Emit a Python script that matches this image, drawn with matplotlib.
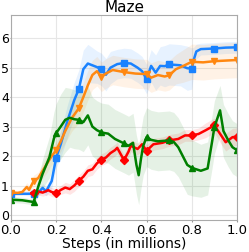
import numpy as np
import matplotlib.pyplot as plt

# Maze: mean return curves, with band half-widths
blue_x = [0.0, 0.05, 0.10, 0.12, 0.14, 0.155, 0.18, 0.20, 0.22, 0.25, 0.28, 0.30, 0.32, 0.34, 0.36,
          0.38, 0.40, 0.42, 0.44, 0.47, 0.50, 0.53, 0.56, 0.58, 0.60, 0.62, 0.64, 0.66, 0.68, 0.70,
          0.75, 0.78, 0.80, 0.81, 0.82, 0.84, 0.90, 0.95, 1.00]
blue_y = [0.72, 0.72, 0.72, 0.75, 0.92, 0.80, 1.15, 1.95, 2.40, 3.20, 3.90, 4.27, 4.95, 5.14, 5.08,
          5.02, 4.94, 4.76, 5.00, 5.12, 5.16, 5.14, 5.00, 4.88, 4.61, 5.06, 4.83, 5.06, 5.05, 5.11,
          5.08, 4.98, 4.97, 5.30, 5.55, 5.63, 5.65, 5.68, 5.69]
blue_sd = [0.05, 0.05, 0.08, 0.10, 0.15, 0.15, 0.25, 0.35, 0.45, 0.55, 0.6, 0.65, 0.65, 0.65, 0.6,
           0.55, 0.55, 0.55, 0.55, 0.5, 0.5, 0.5, 0.5, 0.5, 0.5, 0.55, 0.6, 0.65, 0.7, 0.7,
           0.7, 0.75, 0.7, 0.4, 0.25, 0.2, 0.2, 0.2, 0.2]

orange_x = [0.0, 0.03, 0.05, 0.07, 0.08, 0.10, 0.12, 0.14, 0.16, 0.18, 0.20, 0.22, 0.24, 0.27, 0.30,
            0.32, 0.34, 0.36, 0.38, 0.40, 0.42, 0.45, 0.50, 0.55, 0.60, 0.62, 0.65, 0.68, 0.70, 0.73,
            0.76, 0.80, 0.85, 0.90, 0.95, 1.00]
orange_y = [0.76, 0.75, 0.78, 0.95, 0.85, 1.15, 1.25, 1.50, 1.75, 2.00, 2.20, 2.50, 2.85, 3.30, 3.62,
            4.00, 4.40, 4.75, 4.88, 4.69, 4.80, 4.92, 4.85, 4.80, 4.78, 4.66, 4.75, 4.70, 4.74, 4.95,
            5.05, 5.20, 5.18, 5.22, 5.24, 5.26]
orange_sd = [0.08, 0.08, 0.1, 0.15, 0.15, 0.2, 0.2, 0.25, 0.3, 0.3, 0.3, 0.35, 0.4, 0.45, 0.5,
             0.5, 0.5, 0.5, 0.5, 0.5, 0.5, 0.5, 0.5, 0.5, 0.5, 0.5, 0.5, 0.5, 0.5, 0.5,
             0.55, 0.6, 0.6, 0.6, 0.6, 0.6]

green_x = [0.0, 0.05, 0.10, 0.12, 0.14, 0.17, 0.19, 0.20, 0.22, 0.24, 0.26, 0.28, 0.30, 0.32, 0.34,
           0.36, 0.38, 0.40, 0.43, 0.46, 0.50, 0.52, 0.54, 0.555, 0.565, 0.575, 0.585, 0.60, 0.62, 0.65,
           0.70, 0.72, 0.74, 0.76, 0.78, 0.80, 0.84, 0.87, 0.89, 0.90, 0.925, 0.94, 0.96, 0.98, 1.00]
green_y = [0.52, 0.50, 0.44, 0.95, 1.40, 1.96, 2.60, 2.78, 3.00, 3.23, 3.30, 3.25, 3.23, 3.15, 3.38,
           3.00, 2.88, 2.80, 2.76, 2.58, 2.43, 2.35, 2.45, 1.70, 1.35, 1.90, 2.35, 2.64, 2.55, 2.50,
           2.53, 2.48, 2.30, 2.00, 1.70, 1.60, 1.50, 1.58, 2.50, 2.98, 3.55, 2.85, 2.55, 2.30, 2.20]
green_sd = [0.1, 0.1, 0.1, 0.3, 0.5, 0.7, 0.9, 1.0, 1.1, 1.1, 1.0, 1.0, 1.0, 1.0, 1.0,
            1.0, 1.0, 1.0, 1.0, 1.0, 1.0, 1.0, 1.0, 1.0, 1.0, 1.0, 1.0, 1.0, 1.0, 1.0,
            1.0, 1.0, 1.0, 1.0, 1.0, 0.95, 0.9, 0.9, 0.9, 0.9, 0.85, 0.9, 0.9, 0.9, 0.9]

red_x = [0.09, 0.10, 0.12, 0.14, 0.165, 0.18, 0.20, 0.22, 0.24, 0.26, 0.28, 0.30, 0.32, 0.34, 0.36,
         0.38, 0.40, 0.42, 0.44, 0.46, 0.47, 0.49, 0.50, 0.52, 0.53, 0.56, 0.58, 0.60, 0.63, 0.67,
         0.70, 0.74, 0.77, 0.80, 0.83, 0.86, 0.90, 0.93, 0.95, 0.98, 1.00]
red_y = [0.74, 0.74, 0.80, 0.76, 0.84, 0.78, 0.74, 0.85, 0.93, 0.88, 1.00, 1.16, 1.30, 1.50, 1.55,
         1.75, 1.88, 1.95, 2.10, 2.20, 2.28, 2.00, 1.86, 2.15, 2.35, 2.24, 2.40, 2.18, 2.40, 2.45,
         2.53, 2.58, 2.70, 2.70, 2.75, 2.87, 3.04, 2.70, 2.47, 2.64, 2.66]
red_sd = [0.1, 0.1, 0.12, 0.12, 0.15, 0.15, 0.15, 0.15, 0.18, 0.18, 0.2, 0.2, 0.2, 0.2, 0.2,
          0.2, 0.2, 0.2, 0.2, 0.2, 0.2, 0.2, 0.2, 0.2, 0.2, 0.2, 0.2, 0.2, 0.2, 0.2,
          0.2, 0.2, 0.2, 0.2, 0.2, 0.25, 0.25, 0.3, 0.3, 0.3, 0.3]

series = [
    (blue_x, blue_y, blue_sd, "#1a82ff", "s"),
    (orange_x, orange_y, orange_sd, "#ff8811", "v"),
    (red_x, red_y, red_sd, "#ff0000", "D"),
    (green_x, green_y, green_sd, "#007f00", "^"),
]

fig = plt.figure(figsize=(2.49, 2.52), dpi=100)
ax = fig.add_axes([0.0442, 0.127, 0.9076, 0.815])

for x, y, sd, c, m in series:
    x = np.array(x)
    y = np.array(y)
    sd = np.array(sd)
    ax.fill_between(x, y - sd, y + sd, color=c, alpha=0.1, linewidth=0)
for x, y, sd, c, m in series:
    x = np.array(x)
    marks = [i for i, v in enumerate(x) if abs(v * 10 - round(v * 10)) < 1e-6]
    ax.plot(x, y, color=c, lw=1.8, marker=m, ms=5 if m != "D" else 4.5, markevery=marks)

ax.set_xlim(0, 1)
ax.set_ylim(-0.17, 6.8)
ax.set_xticks([0, 0.2, 0.4, 0.6, 0.8, 1.0])
ax.set_xticklabels(["0.0", "0.2", "0.4", "0.6", "0.8", "1.0"])
ax.set_yticks(range(7))
ax.tick_params(labelsize=9.5, length=1.5, pad=1.5, color="#999999")
ax.tick_params(axis="y", labelsize=9, length=1, pad=0.5)
ax.grid(True, color="#e6e6e6", lw=0.8)
ax.set_axisbelow(True)
for s in ax.spines.values():
    s.set_color("#aaaaaa")
ax.set_title("Maze", fontsize=11, pad=2)
ax.set_xlabel("Steps (in millions)", fontsize=10, labelpad=0)

plt.savefig("out.png", dpi=100)
